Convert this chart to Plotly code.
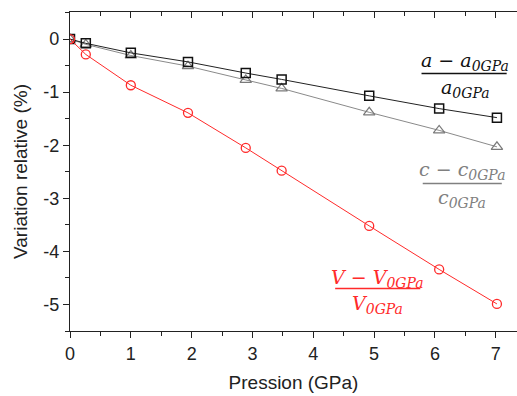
import plotly.graph_objects as go

pressure = [0, 0.26, 1.0, 1.94, 2.89, 3.48, 4.92, 6.07, 7.02]
a_rel = [0, -0.08, -0.26, -0.43, -0.64, -0.76, -1.07, -1.31, -1.48]
c_rel = [0, -0.10, -0.31, -0.51, -0.77, -0.93, -1.38, -1.72, -2.03]
v_rel = [0, -0.29, -0.87, -1.39, -2.05, -2.48, -3.52, -4.34, -4.99]

x_ticks = [0, 1, 2, 3, 4, 5, 6, 7]
y_ticks = [0, -1, -2, -3, -4, -5]
y_ticklabels = ["0", "-1", "-2", "-3", "-4", "-5"]

fig = go.Figure()
fig.add_trace(go.Scatter(x=pressure, y=c_rel, mode="lines+markers",
                         line=dict(color="#8a8a8a", width=1),
                         marker=dict(symbol="triangle-up-open", size=10, color="#7a7a7a", line=dict(width=1.2)),
                         showlegend=False))
fig.add_trace(go.Scatter(x=pressure, y=a_rel, mode="lines+markers",
                         line=dict(color="#222222", width=1),
                         marker=dict(symbol="square-open", size=9, color="#111111", line=dict(width=1.5)),
                         showlegend=False))
fig.add_trace(go.Scatter(x=pressure, y=v_rel, mode="lines+markers",
                         line=dict(color="#ff2a2a", width=1),
                         marker=dict(symbol="circle-open", size=9, color="#ff2a2a", line=dict(width=1.3)),
                         showlegend=False))
# invisible trace to anchor the top axis
fig.add_trace(go.Scatter(x=[0], y=[0], xaxis="x2", mode="markers",
                         marker=dict(opacity=0), showlegend=False, hoverinfo="skip"))

XR = [0, 7.35]
YR = [-5.5, 0.51]

fig.update_layout(
    width=517, height=396,
    margin=dict(l=70, r=0, t=12, b=65),
    paper_bgcolor="white", plot_bgcolor="white",
    font=dict(family="Liberation Sans, Arial, sans-serif", color="#222222"),
    xaxis=dict(range=XR, tickvals=x_ticks, ticks="outside", ticklen=6, tickwidth=1,
               tickcolor="#222", showline=True, linecolor="#222", linewidth=1.2,
               showgrid=False, zeroline=False, automargin=False,
               tickfont=dict(size=18, color="#222"),
               minor=dict(dtick=0.5, ticks="outside", ticklen=4, tickcolor="#222"),
               title=dict(text="Pression (GPa)", font=dict(size=19, color="#222"), standoff=12)),
    xaxis2=dict(range=XR, overlaying="x", side="top", anchor="y",
                tickvals=x_ticks, ticks="inside", ticklen=6, tickcolor="#222",
                showticklabels=False, showline=True, linecolor="#222", linewidth=1.2,
                showgrid=False, zeroline=False, automargin=False,
                minor=dict(dtick=0.5, ticks="inside", ticklen=4, tickcolor="#222")),
    yaxis=dict(range=YR, tickvals=y_ticks, ticktext=y_ticklabels, ticks="outside", ticklen=6, tickwidth=1,
               tickcolor="#222", showline=True, linecolor="#222", linewidth=1.2,
               showgrid=False, zeroline=False, automargin=False,
               tickfont=dict(size=18, color="#222"),
               minor=dict(dtick=0.5, ticks="outside", ticklen=4, tickcolor="#222"),
               title=dict(text="Variation relative (%)", font=dict(size=19, color="#222"), standoff=10)),
)

serif = "DejaVu Serif, Liberation Serif, serif"

def sub(s):
    return "<sub><span style='font-size:14px'>" + s + "</span></sub>"

def fraction(num, den, xc, y_num, y_den, x0, x1, y_bar, color):
    fig.add_annotation(x=xc, y=y_num, xref="x", yref="y", text=num, showarrow=False,
                       font=dict(family=serif, size=19, color=color))
    fig.add_annotation(x=xc, y=y_den, xref="x", yref="y", text=den, showarrow=False,
                       font=dict(family=serif, size=19, color=color))
    fig.add_shape(type="line", x0=x0, x1=x1, y0=y_bar, y1=y_bar, xref="x", yref="y",
                  line=dict(color=color, width=1.5))

fraction("<i>a − a" + sub("0GPa") + "</i>", "<i>a" + sub("0GPa") + "</i>",
         6.5, -0.42, -0.93, 5.78, 7.18, -0.647, "#111111")
fraction("<i>c − c" + sub("0GPa") + "</i>", "<i>c" + sub("0GPa") + "</i>",
         6.45, -2.47, -3.01, 5.80, 7.10, -2.72, "#808080")
fraction("<i>V − V" + sub("0GPa") + "</i>", "<i>V" + sub("0GPa") + "</i>",
         5.05, -4.52, -5.0, 4.36, 5.76, -4.70, "#ff2a2a")

fig.write_html("out.html", config={"displayModeBar": False},
               post_script="document.body.style.margin='0';document.body.style.overflow='hidden';")
